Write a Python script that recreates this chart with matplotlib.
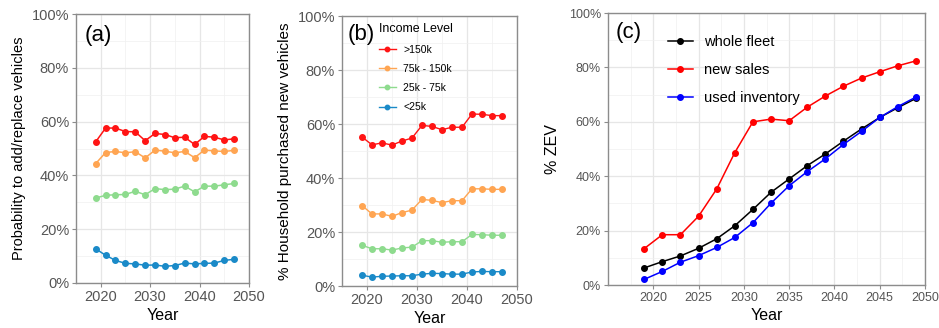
import numpy as np
import matplotlib.pyplot as plt
from matplotlib.ticker import PercentFormatter, MultipleLocator

plt.rcParams['font.family'] = ['Liberation Sans', 'DejaVu Sans']

# data
years_ab = np.arange(2019, 2048, 2)
years_c = np.arange(2019, 2050, 2)

income_levels = ['>150k', '75k - 150k', '25k - 75k', '<25k']
income_colors = ['#FF1414', '#FFA552', '#8EDB8E', '#1A8AC8']

# (a) probability to add/replace vehicles, %
prob_high = [52.5, 57.6, 57.6, 56.3, 56.2, 52.9, 55.6, 55.2, 54.0, 54.2, 51.5, 54.5, 54.2, 53.2, 53.6]
prob_midhigh = [44.4, 48.5, 48.9, 48.4, 48.8, 46.5, 49.4, 49.0, 48.4, 48.9, 46.6, 49.4, 49.1, 48.9, 49.3]
prob_midlow = [31.6, 32.6, 32.8, 32.9, 34.1, 32.8, 35.1, 34.7, 34.9, 36.0, 33.9, 36.0, 36.0, 36.5, 37.0]
prob_low = [12.7, 10.3, 8.4, 7.3, 7.1, 6.6, 6.7, 6.2, 6.5, 7.4, 7.1, 7.3, 7.4, 8.4, 8.8]

# (b) household purchased new vehicles, %
new_high = [55.2, 52.3, 53.0, 52.2, 53.7, 54.8, 59.5, 59.1, 57.9, 58.8, 58.8, 63.7, 63.6, 63.1, 63.1]
new_midhigh = [29.8, 26.7, 26.7, 25.8, 27.2, 28.1, 32.1, 31.7, 30.9, 31.6, 31.6, 36.0, 36.0, 35.8, 35.8]
new_midlow = [15.1, 13.8, 13.8, 13.3, 14.1, 14.4, 16.8, 16.8, 16.2, 16.4, 16.4, 19.1, 19.0, 18.8, 18.8]
new_low = [4.0, 3.3, 3.6, 3.7, 3.8, 3.8, 4.4, 4.7, 4.6, 4.4, 4.4, 5.2, 5.4, 5.3, 5.3]

# (c) % ZEV
zev_fleet = [6.3, 8.6, 10.7, 13.5, 17.0, 21.8, 27.8, 34.1, 39.0, 43.9, 48.2, 52.9, 57.4, 61.6, 65.2, 68.6]
zev_new = [13.4, 18.5, 18.5, 25.3, 35.3, 48.7, 60.0, 61.0, 60.4, 65.4, 69.5, 73.1, 76.1, 78.4, 80.6, 82.4]
zev_used = [2.1, 5.0, 8.4, 10.8, 13.8, 17.5, 22.9, 30.1, 36.5, 41.7, 46.4, 51.7, 56.5, 61.6, 65.6, 69.1]
zev_names = ['whole fleet', 'new sales', 'used inventory']
zev_colors = ['black', '#FF0000', '#0000FF']

fig = plt.figure(figsize=(9.39, 3.28), dpi=100)
ax_a = fig.add_axes([0.0809, 0.1372, 0.1842, 0.8201])
ax_b = fig.add_axes([0.3642, 0.128, 0.1864, 0.8232])
ax_c = fig.add_axes([0.6475, 0.131, 0.3376, 0.8293])


def style(ax, xmajor, tick_size):
    ax.set_xlim(2015, 2050)
    ax.set_ylim(0, 100)
    ax.set_xticks(np.arange(2020, 2051, xmajor))
    ax.xaxis.set_minor_locator(MultipleLocator(xmajor / 2))
    ax.yaxis.set_major_locator(MultipleLocator(20))
    ax.yaxis.set_minor_locator(MultipleLocator(10))
    ax.yaxis.set_major_formatter(PercentFormatter(decimals=0))
    ax.grid(which='major', color='#E6E6E6', lw=0.9)
    ax.grid(which='minor', color='#F0F0F0', lw=0.5)
    ax.set_axisbelow(True)
    for s in ax.spines.values():
        s.set_color('#8C8C8C')
        s.set_linewidth(1.0)
    ax.tick_params(which='major', length=3, color='#8C8C8C', labelcolor='#555555',
                   labelsize=tick_size, pad=2)
    ax.tick_params(which='minor', length=0)
    ax.set_xlabel('Year', fontsize=11.5, labelpad=3)


for vals, c in zip([prob_high, prob_midhigh, prob_midlow, prob_low], income_colors):
    ax_a.plot(years_ab, vals, color=c, lw=1.1, marker='o', ms=4)
style(ax_a, 10, 10.5)
ax_a.set_ylabel('Probability to add/replace vehicles', fontsize=10.5, labelpad=4)
ax_a.text(0.05, 0.92, '(a)', transform=ax_a.transAxes, fontsize=16, va='center')

for vals, c, lab in zip([new_high, new_midhigh, new_midlow, new_low], income_colors, income_levels):
    ax_b.plot(years_ab, vals, color=c, lw=1.0, marker='o', ms=4, label=lab)
style(ax_b, 10, 10.5)
ax_b.set_ylabel('% Household purchased new vehicles', fontsize=11, labelpad=4)
ax_b.text(0.03, 0.93, '(b)', transform=ax_b.transAxes, fontsize=16, va='center')
ax_b.legend(loc='upper left', bbox_to_anchor=(0.2, 0.98), frameon=False, title='Income Level',
            fontsize=7.5, title_fontsize=9, alignment='left', handlelength=1.6,
            handletextpad=0.7, labelspacing=0.88, borderpad=0.2, borderaxespad=0,
            markerscale=0.8)

for vals, c, lab in zip([zev_fleet, zev_new, zev_used], zev_colors, zev_names):
    ax_c.plot(years_c, vals, color=c, lw=1.1, marker='o', ms=4, label=lab)
style(ax_c, 5, 9)
ax_c.set_ylabel('% ZEV', fontsize=11.5, labelpad=6)
ax_c.text(0.025, 0.93, '(c)', transform=ax_c.transAxes, fontsize=16, va='center')
ax_c.legend(loc='upper left', bbox_to_anchor=(0.17, 0.94), frameon=False, fontsize=10.5,
            handlelength=1.7, handletextpad=0.8, labelspacing=0.95, borderaxespad=0)

fig.savefig('out.png', dpi=100)
